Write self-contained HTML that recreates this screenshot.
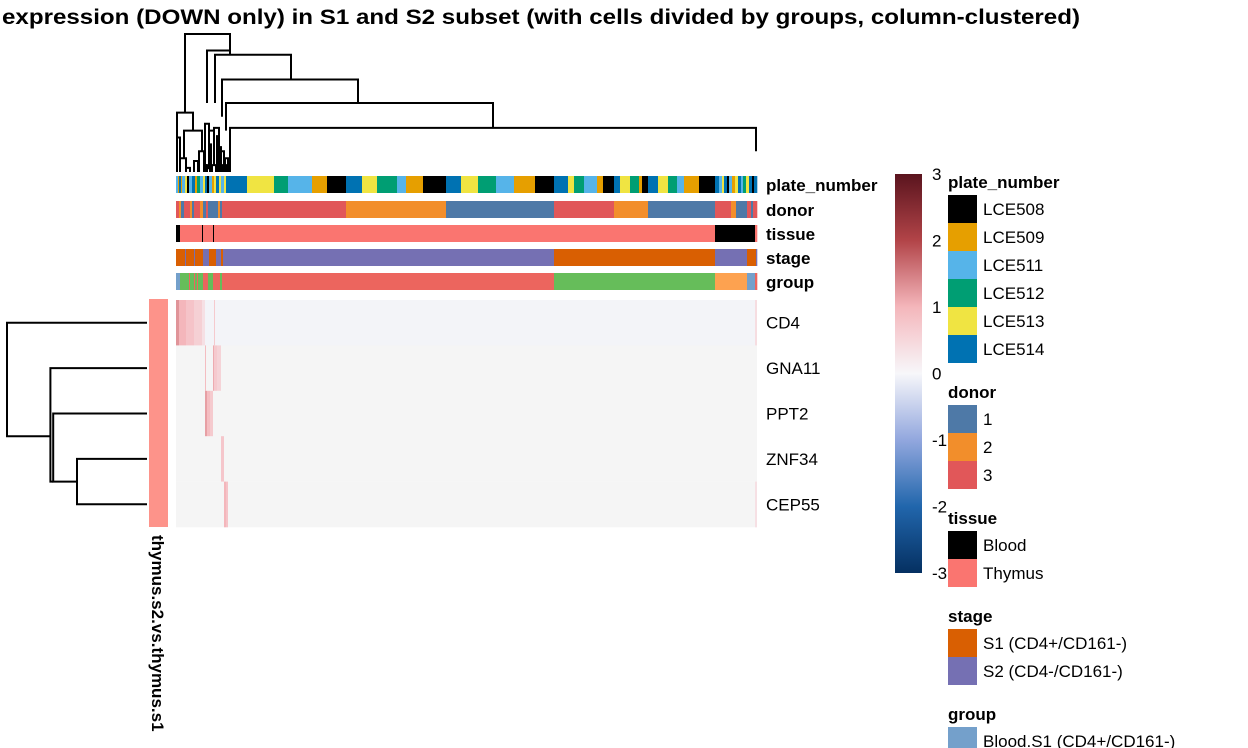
<!DOCTYPE html>
<html><head><meta charset="utf-8"><style>
body{margin:0;background:#fff;}
svg{display:block;font-family:"Liberation Sans",sans-serif;}
</style></head><body>
<svg id="chart" width="1248" height="748" viewBox="0 0 1248 748">
<text x="1080" y="24" text-anchor="end" font-size="21" font-weight="bold" textLength="1078" lengthAdjust="spacingAndGlyphs">expression (DOWN only) in S1 and S2 subset (with cells divided by groups, column-clustered)</text>
<g id="g-dendro-top"></g>
<g id="g-anno"></g>
<g id="g-heat"></g>
<g id="g-rowd"></g>
<g id="g-legend"></g>
</svg>
<script>
// ---- data ----
const rowLabels = ["CD4","GNA11","PPT2","ZNF34","CEP55"];
const annoNames = ["plate_number","donor","tissue","stage","group"];
const plateColors = {"LCE508":"#000000","LCE509":"#e69f00","LCE511":"#56b4e9","LCE512":"#009e73","LCE513":"#f0e442","LCE514":"#0072b2"};
const donorColors = {"1":"#4e79a7","2":"#f28e2b","3":"#e15759"};
const tissueColors = {"Blood":"#000000","Thymus":"#fa7570"};
const stageColors = {"S1 (CD4+/CD161-)":"#d95f02","S2 (CD4-/CD161-)":"#7570b3"};
const groupColors = {"Blood.S1 (CD4+/CD161-)":"#74a0cb","Thymus.S1":"#66bd5a","Thymus.S2":"#ec655e","Blood.S2":"#fda250"};
const plateSegs = [[0,2,"LCE511"],[2,3,"LCE509"],[3,5,"LCE514"],[5,6,"LCE509"],[6,9,"LCE511"],[9,11,"LCE513"],[11,13,"LCE508"],[13,16,"LCE511"],[16,19,"LCE514"],[19,21,"LCE509"],[21,24,"LCE512"],[24,27,"LCE511"],[27,29,"LCE513"],[29,31,"LCE514"],[31,33,"LCE508"],[33,36,"LCE511"],[36,38,"LCE509"],[38,40,"LCE513"],[40,43,"LCE514"],[43,45,"LCE513"],[45,48,"LCE511"],[48,50,"LCE513"],[50,52,"LCE514"],[52,71,"LCE514"],[71,98,"LCE513"],[98,112,"LCE512"],[112,136,"LCE511"],[136,151,"LCE509"],[151,170,"LCE508"],[170,186,"LCE514"],[186,201,"LCE513"],[201,221,"LCE512"],[221,230,"LCE511"],[230,247,"LCE509"],[247,270,"LCE508"],[270,285,"LCE514"],[285,302,"LCE513"],[302,320,"LCE512"],[320,338,"LCE511"],[338,359,"LCE509"],[359,378,"LCE508"],[378,392,"LCE514"],[392,398,"LCE513"],[398,408,"LCE512"],[408,421,"LCE511"],[421,427,"LCE509"],[427,438,"LCE508"],[438,444,"LCE514"],[444,454,"LCE513"],[454,463,"LCE512"],[463,466,"LCE509"],[466,472,"LCE508"],[472,482,"LCE514"],[482,492,"LCE513"],[492,501,"LCE512"],[501,508,"LCE511"],[508,523,"LCE509"],[523,539,"LCE508"],[539,543,"LCE514"],[543,546,"LCE511"],[546,548,"LCE513"],[548,551,"LCE514"],[551,553,"LCE508"],[553,556,"LCE511"],[556,559,"LCE509"],[559,562,"LCE513"],[562,565,"LCE514"],[565,567,"LCE511"],[567,570,"LCE512"],[570,573,"LCE513"],[573,576,"LCE514"],[576,578,"LCE508"],[578,581,"LCE514"]];
const donorSegs = [[0,3,"3"],[3,5,"2"],[5,8,"1"],[8,14,"3"],[14,16,"2"],[16,18,"1"],[18,24,"3"],[24,27,"2"],[27,30,"1"],[30,32,"3"],[32,34,"1"],[34,42,"1"],[42,44,"2"],[44,46,"1"],[46,52,"3"],[52,170,"3"],[170,270,"2"],[270,378,"1"],[378,438,"3"],[438,472,"2"],[472,539,"1"],[539,555,"3"],[555,560,"2"],[560,571,"1"],[571,575,"3"],[575,577,"1"],[577,581,"3"]];
const tissueSegs = [[0,4,"Blood"],[4,26,"Thymus"],[26,27,"Blood"],[27,37,"Thymus"],[37,38,"Blood"],[38,539,"Thymus"],[539,579,"Blood"],[579,581,"Thymus"]];
const stageSegs = [[0,9,"S1 (CD4+/CD161-)"],[9,10,"S2 (CD4-/CD161-)"],[10,18,"S1 (CD4+/CD161-)"],[18,19,"S2 (CD4-/CD161-)"],[19,27,"S1 (CD4+/CD161-)"],[27,33,"S2 (CD4-/CD161-)"],[33,40,"S1 (CD4+/CD161-)"],[40,45,"S2 (CD4-/CD161-)"],[45,47,"S1 (CD4+/CD161-)"],[47,52,"S2 (CD4-/CD161-)"],[52,378,"S2 (CD4-/CD161-)"],[378,539,"S1 (CD4+/CD161-)"],[539,571,"S2 (CD4-/CD161-)"],[571,580,"S1 (CD4+/CD161-)"],[580,581,"S2 (CD4-/CD161-)"]];
const groupSegs = [[0,4,"Blood.S1 (CD4+/CD161-)"],[4,13,"Thymus.S1"],[13,14,"Thymus.S2"],[14,18,"Thymus.S1"],[18,19,"Thymus.S2"],[19,21,"Thymus.S1"],[21,22,"Thymus.S2"],[22,27,"Thymus.S1"],[27,32,"Thymus.S2"],[32,37,"Thymus.S1"],[37,44,"Thymus.S2"],[44,46,"Thymus.S1"],[46,52,"Thymus.S2"],[52,378,"Thymus.S2"],[378,539,"Thymus.S1"],[539,571,"Blood.S2"],[571,579,"Blood.S1 (CD4+/CD161-)"],[579,581,"Thymus.S2"]];
const rowBase = [0.05,0,0,0,0];
const cellSegs = [
 [[0,3,1.3],[3,10,1.0],[10,18,0.8],[18,26,0.6],[26,29,0.35],[38,39,0.7],[579,581,0.4]],
 [[29,30,0.9],[37,38,1.1],[38,41,0.7],[41,45,0.55]],
 [[29,31,1.2],[31,34,0.9],[34,37,0.7]],
 [[45,48,0.75]],
 [[48,50,1.0],[50,52,0.8],[579,581,0.35]]];
const colorTicks = [3,2,1,0,-1,-2,-3];
// column dendrogram merges: [xLeftCol, xRightCol, height, leftChildHeight, rightChildHeight]
const dendroMerges = [[9,54,1.0,0.43,0.88],[31,54,0.88,0.5,0.85],[39,115,0.85,0.5,0.67],[46,182,0.67,0.4,0.5],[50,317,0.5,0.3,0.32],[54,580,0.32,0,0.15],[1,17,0.43,0.25,0.3],[8,26,0.3,0.1,0.15],[1,4,0.25,0,0.03],[4,10,0.1,0,0.03],[10,14,0.03,0,0],[23,28,0.15,0,0.05],[28,30,0.05,0,0],[29,33,0.35,0.05,0.05],[29,31,0.05,0,0],[33,38,0.3,0.02,0.05],[36,40,0.05,0,0],[38,43,0.32,0.05,0.12],[43,48,0.15,0.02,0.05],[47,51,0.05,0,0],[18,22,0.08,0,0],[34,35,0.2,0,0],[41,42,0.26,0,0],[44,45,0.18,0,0],[49,52,0.1,0,0]];
const rowDendro = [[0,2.5,1.0,0,0.69],[1,3.5,0.69,0,0.67],[2,3.5,0.67,0,0.5]];
const rowDendroLeaf = [[3,4,0.5,0,0]];

// ---- layout ----
const NS="http://www.w3.org/2000/svg";
function mk(tag,attrs,parent){const e=document.createElementNS(NS,tag);for(const k in attrs)e.setAttribute(k,attrs[k]);parent.appendChild(e);return e;}
const X0=176, X1=757, NC=581;
const xCol=c=>X0+(X1-X0)*c/NC;
const annoY=[176,201,225,249,273], annoH=17;
const heatY0=300, heatY1=527, rowH=(heatY1-heatY0)/5;
function colorScale(v){
  const stops=[[-3,[5,48,97]],[-2,[33,102,172]],[-1,[146,167,222]],[0,[247,247,250]],[1,[244,182,187]],[2,[178,68,72]],[3,[90,20,30]]];
  if(v<=-3)return "rgb(5,48,97)"; if(v>=3)return "rgb(90,20,30)";
  for(let i=0;i<stops.length-1;i++){const a=stops[i],b=stops[i+1];if(v>=a[0]&&v<=b[0]){const t=(v-a[0])/(b[0]-a[0]);const c=a[1].map((x,j)=>Math.round(x+(b[1][j]-x)*t));return `rgb(${c})`;}}
}
const ga=document.getElementById('g-anno');
const segSets=[[plateSegs,plateColors],[donorSegs,donorColors],[tissueSegs,tissueColors],[stageSegs,stageColors],[groupSegs,groupColors]];
segSets.forEach(([segs,cols],i)=>{
  segs.forEach(s=>{
    const r=mk('rect',{x:xCol(s[0]),y:annoY[i],width:xCol(s[1])-xCol(s[0])+0.3,height:annoH,fill:cols[s[2]]},ga);
    
    
  });
  const t=mk('text',{x:766,y:annoY[i]+15,'font-size':17,'font-weight':'bold'},ga);
  t.textContent=annoNames[i];
  
  
});
const gh=document.getElementById('g-heat');
rowLabels.forEach((lab,i)=>{
  const y=heatY0+i*rowH;
  const bg=mk('rect',{x:X0,y:y,width:X1-X0,height:rowH+0.3,fill:i===0?'#f3f4f8':'#f5f5f5'},gh);
  
  
  cellSegs[i].forEach(s=>{
    const r=mk('rect',{x:xCol(s[0]),y:y,width:xCol(s[1])-xCol(s[0]),height:rowH+0.3,fill:colorScale(s[2])},gh);
    
    
  });
  const t=mk('text',{x:766,y:y+rowH/2+6,'font-size':17},gh);
  t.textContent=lab;
  
  
});
const rb=mk('rect',{x:149,y:heatY0-1,width:19,height:heatY1-heatY0+1,fill:'#fd938a'},gh);


const rt=mk('text',{x:0,y:0,'font-size':17,'font-weight':'bold',transform:'translate(152,535) rotate(90)'},gh);
rt.textContent='thymus.s2.vs.thymus.s1';


const gd=document.getElementById('g-dendro-top');
const dY=h=>172-138*h;
dendroMerges.forEach(m=>{
  const xl=xCol(m[0]), xr=xCol(m[1]);
  const p=mk('path',{d:`M${xl},${dY(m[3])}V${dY(m[2])}H${xr}V${dY(m[4])}`,fill:'none',stroke:'#000','stroke-width':2},gd);
  
  
});
const gr=document.getElementById('g-rowd');
const rY=r=>heatY0+rowH*(r+0.5);
const rX=h=>147-140*h;
rowDendro.concat(rowDendroLeaf).forEach(m=>{
  const p=mk('path',{d:`M${rX(m[3])},${rY(m[0])}H${rX(m[2])}V${rY(m[1])}H${rX(m[4])}`,fill:'none',stroke:'#000','stroke-width':2},gr);
  
  
});
const gl=document.getElementById('g-legend');
const defs=mk('defs',{},gl);
const lg=mk('linearGradient',{id:'cbar',x1:0,y1:0,x2:0,y2:1},defs);
for(let k=0;k<=12;k++){const v=3-k*0.5;mk('stop',{offset:k/12,'stop-color':colorScale(v)},lg);}
const cb=mk('rect',{x:895,y:174,width:27,height:399,fill:'url(#cbar)'},gl);


colorTicks.forEach(v=>{
  const t=mk('text',{x:932,y:174+(3-v)/6*399+6,'font-size':17},gl);
  t.textContent=v;
  
  
});
const legends=[["plate_number",plateColors,182],["donor",donorColors,392],["tissue",tissueColors,518],["stage",stageColors,616],["group",groupColors,714]];
legends.forEach(([title,cols,ty])=>{
  const t=mk('text',{x:948,y:ty+6,'font-size':17,'font-weight':'bold'},gl);
  t.textContent=title;
  
  
  Object.keys(cols).forEach((k,i)=>{
    if(title==='group'&&i>0)return;
    const y=ty+13+i*28;
    const r=mk('rect',{x:948,y:y,width:29,height:28,fill:cols[k]},gl);
    
    
    const tt=mk('text',{x:983,y:y+20,'font-size':17},gl);
    tt.textContent=k;
    
    
  });
});
</script>
</body></html>
